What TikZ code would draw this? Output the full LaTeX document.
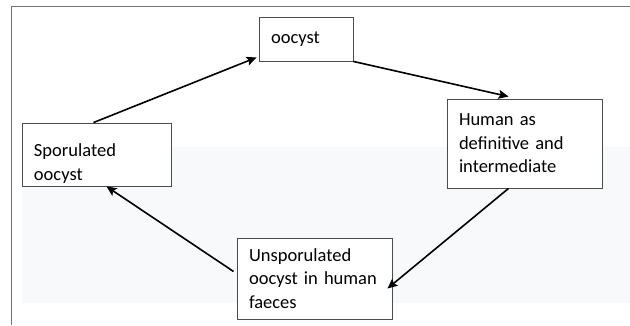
\documentclass[tikz,border=0pt]{standalone}
\usepackage{fontspec}
\setmainfont{Carlito}
\usepackage{tikz}
\usetikzlibrary{positioning,arrows.meta}
\definecolor{bandgray}{RGB}{248,249,251}
\definecolor{framegray}{RGB}{115,115,115}
\newcommand{\boxfont}{\fontsize{18.5}{23.5}\selectfont\hyphenpenalty=10000\relax}

\begin{document}
\begin{tikzpicture}[x=1pt, y=-1pt,
  box/.style={draw=black!70, line width=0.9pt, fill=white, align=left,
              font=\boxfont, inner xsep=12pt, inner ysep=0pt},
  arr/.style={-{Stealth[length=10pt,width=9pt,inset=2pt]}, line width=1.6pt}]
\useasboundingbox (0,0) rectangle (630,325);
% page frame and faint band
\fill[bandgray] (22,147) rectangle (630,303);
\draw[framegray, line width=1.2pt] (11.5,325) -- (11.5,6.5) -- (630,6.5);
\node[box, text width=70pt, minimum height=44pt] (oo) at (306,39) {oocyst};
\node[box, text width=131pt, minimum height=89pt] (hum) at (524.5,143.5) {Human as\\ definitive and\\ intermediate};
\node[box, text width=131pt, minimum height=81pt] (uns) at (314.5,278.5) {Unsporulated\\ oocyst in human\\ faeces};
\node[box, text width=125pt, minimum height=63pt, text height=31pt] (spo) at (96.5,154.5) {Sporulated\\ oocyst};
\draw[arr] ([xshift=-3pt]spo.north) -- ([shift={(-2pt,4pt)}]oo.south west);
\draw[arr] (oo.south east) -- ([shift={(-16pt,2pt)}]hum.north);
\draw[arr] ([xshift=-16pt]hum.south) -- ([shift={(-5pt,-10pt)}]uns.east);
\draw[arr] ([shift={(-3pt,7pt)}]uns.west) -- ([xshift=10pt]spo.south);
\end{tikzpicture}
\end{document}
